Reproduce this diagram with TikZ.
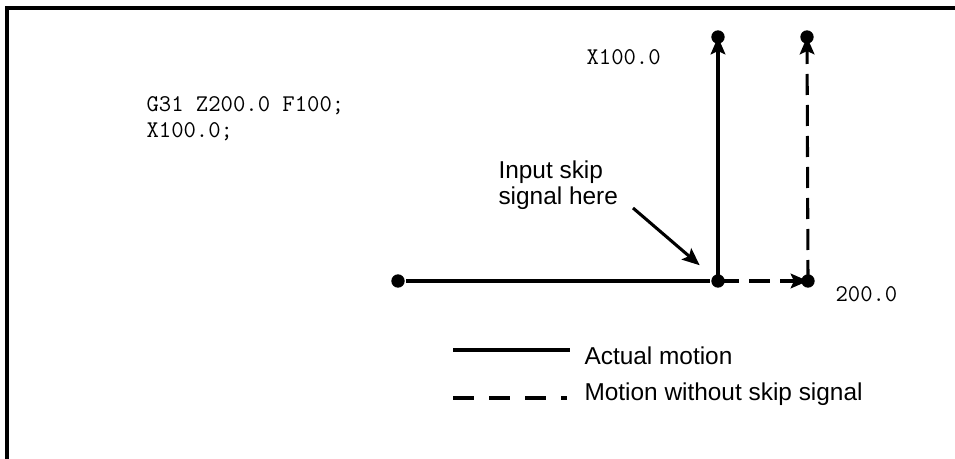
\documentclass[tikz,border=0pt]{standalone}
\usepackage{fontspec}
\setsansfont{Liberation Sans}
\usetikzlibrary{arrows.meta}
\tikzset{
  every picture/.style={line width=2.3pt},
  dot/.style={circle, fill=black, inner sep=0pt, minimum size=10pt},
  motion/.style={draw=black, line width=2.3pt},
  skipped/.style={motion, dash pattern=on 15.75pt off 7.5pt},
  legskipped/.style={motion, dash pattern=on 15.75pt off 11.25pt},
  tip/.style={-{Stealth[length=13pt, width=11pt, inset=2.5pt]}},
  code/.style={font=\ttfamily\fontsize{18}{26}\selectfont, inner sep=0pt, anchor=base west},
  caption/.style={font=\sffamily\fontsize{18.3}{19.5}\selectfont, inner sep=0pt, align=left},
  frame/.style={line width=2.3pt},
}
\begin{document}
\begin{tikzpicture}[x=0.75pt, y=-0.75pt]
  \useasboundingbox (0,0) rectangle (955,459);
  \draw[frame] (955,8) -- (7,8) -- (7,459);

  % program
  \node[code] (prog1) at (145,112) {G31 Z200.0 F100;};
  \node[code] (prog2) at (145,138) {X100.0;};

  % tool path points
  \node[dot] (start) at (398,281) {};
  \node[dot] (skip) at (718,281) {};
  \node[dot] (stop) at (808,281) {};
  \node[dot] (skiptop) at (718,37) {};
  \node[dot] (stoptop) at (807,37) {};

  \node[code] (xval) at (585,65) {X100.0};
  \node[code] (zval) at (834,301) {200.0};

  \draw[motion] (start) -- (skip);
  \draw[motion, tip] (skip.center) -- (skiptop.center);
  \draw[skipped, tip] (skip.center) -- (stop.center);
  \draw[skipped, tip] (stop.center) -- (stoptop.center);

  \node[caption, anchor=north west] (skiptext) at (497,159) {Input skip\\signal here};
  \coordinate (ptr) at (633,208);
  \draw[motion, tip, shorten >=12pt] (ptr) -- (skip);

  % legend
  \draw[motion] (453,350) -- (570,350);
  \node[caption, anchor=base west] (legact) at (583,364) {Actual motion};
  \draw[legskipped] (453,398) -- (567,398);
  \node[caption, anchor=base west] (legskip) at (583,400) {Motion without skip signal};
\end{tikzpicture}
\end{document}
